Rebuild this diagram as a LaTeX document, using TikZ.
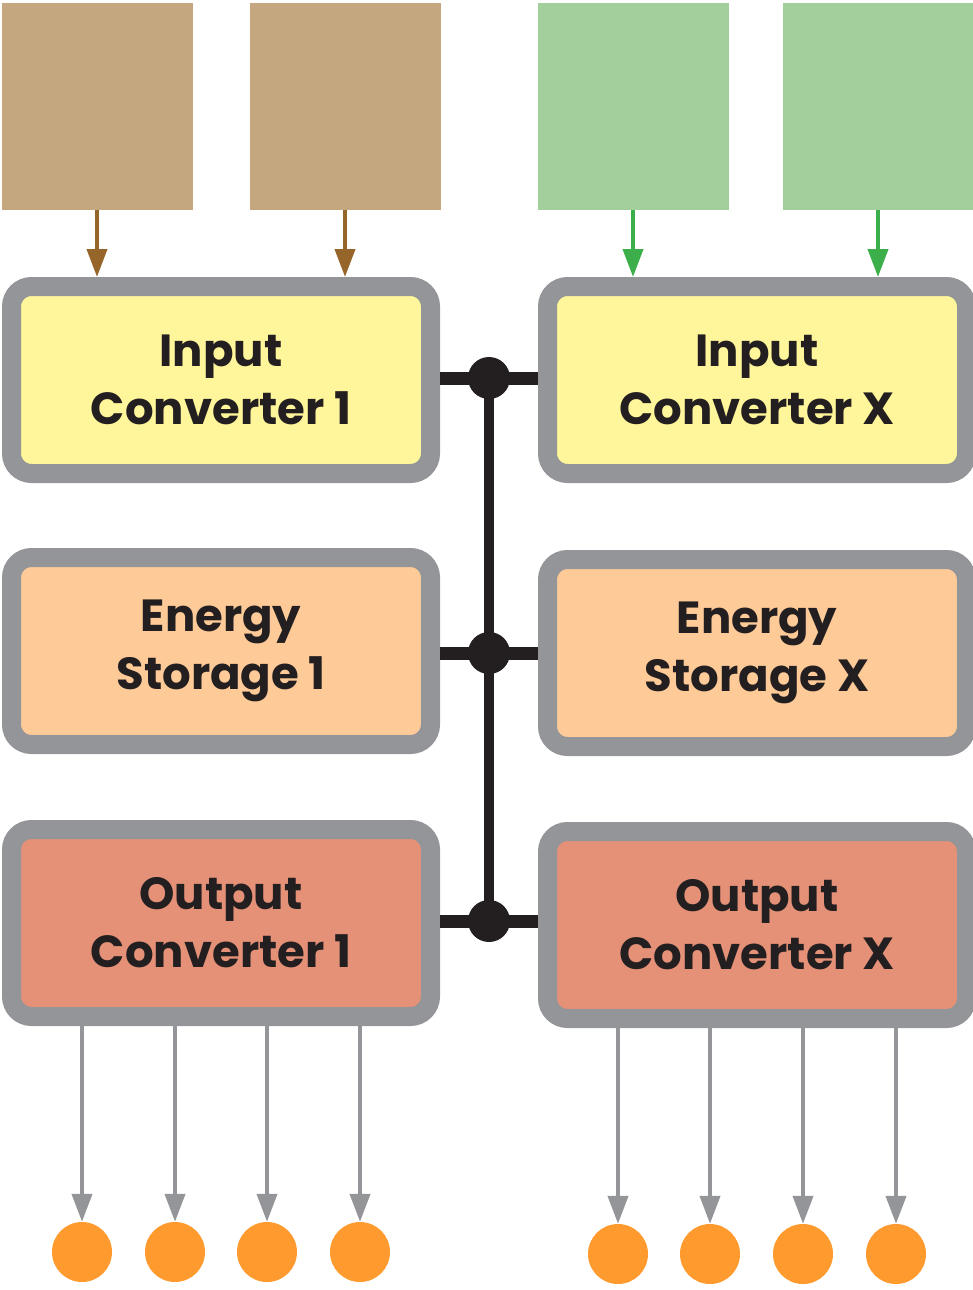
\documentclass[tikz,border=0pt]{standalone}
\usepackage{fontspec}
\setmainfont{Poppins}
\usepackage{tikz}
\usetikzlibrary{positioning, arrows.meta, calc}

\definecolor{srcbrown}{HTML}{C5A77F}
\definecolor{arrbrown}{HTML}{96652A}
\definecolor{srcgreen}{HTML}{A3CF9C}
\definecolor{arrgreen}{HTML}{3DAF4A}
\definecolor{inyellow}{HTML}{FFF59A}
\definecolor{espeach}{HTML}{FECA98}
\definecolor{outsalmon}{HTML}{E59177}
\definecolor{framegray}{HTML}{939598}
\definecolor{loadorange}{HTML}{FF9A2E}
\definecolor{textdark}{HTML}{231F20}

\tikzset{
    srcbox/.style={rectangle, inner sep=0, minimum width=191, minimum height=207},
    unitbox/.style={rectangle, rounded corners=20, draw=framegray, line width=19,
        minimum width=419, minimum height=187, align=center, text=textdark,
        font=\fontsize{45}{58}\selectfont\bfseries},
    joint/.style={circle, fill=textdark, inner sep=0, minimum size=42},
    load/.style={circle, fill=loadorange, inner sep=0, minimum size=60},
    feed/.style={line width=4, -{Triangle[width=20,length=28]}},
    bus/.style={textdark, line width=13}
}

\begin{document}
\begin{tikzpicture}[x=1pt, y=-1pt]
    \useasboundingbox (0,0) rectangle (972,1290);

    % sources
    \foreach \name/\x/\co in {
        s1/97/srcbrown, s2/345/srcbrown,
        s3/633/srcgreen, s4/878/srcgreen}
    {
        \node[srcbox, fill=\co] (\name) at (\x,106.5) {};
    }

    % converter and storage units
    \foreach \name/\x/\y/\co/\txt in {
        in1/221/380/inyellow/{Input\\Converter 1},
        inX/757/380/inyellow/{Input\\Converter X},
        es1/221/651/espeach/{Energy\\Storage 1},
        esX/757/653/espeach/{Energy\\Storage X},
        out1/221/923/outsalmon/{Output\\Converter 1},
        outX/757/925/outsalmon/{Output\\Converter X}}
    {
        \node[unitbox, fill=\co] (\name) at (\x,\y) {\txt};
    }

    % source arrows
    \foreach \src/\dst/\co in {
        s1/in1/arrbrown, s2/in1/arrbrown,
        s3/inX/arrgreen, s4/inX/arrgreen}
    {
        \draw[feed, \co] (\src.south) -- (\src.south |- \dst.north);
    }

    % bus joints
    \node[joint] (j1) at (489,378) {};
    \node[joint] (j2) at (489,653) {};
    \node[joint] (j3) at (489,921) {};

    % bus lines
    \draw[textdark, line width=10] (j1.center) -- (j3.center);
    \foreach \j/\l/\r in {j1/in1/inX, j2/es1/esX, j3/out1/outX}
    {
        \draw[bus] (\l.east |- \j) -- (\j -| \r.west);
    }

    % loads
    \foreach \name/\x/\y/\src in {
        o1/82/1252/out1, o2/175/1252/out1, o3/267/1252/out1, o4/360/1252/out1,
        o5/618/1254/outX, o6/710/1254/outX, o7/803/1254/outX, o8/896/1254/outX}
    {
        \node[load] (\name) at (\x,\y) {};
        \draw[feed, framegray] (\name |- \src.south) -- (\name.north);
    }
\end{tikzpicture}
\end{document}
